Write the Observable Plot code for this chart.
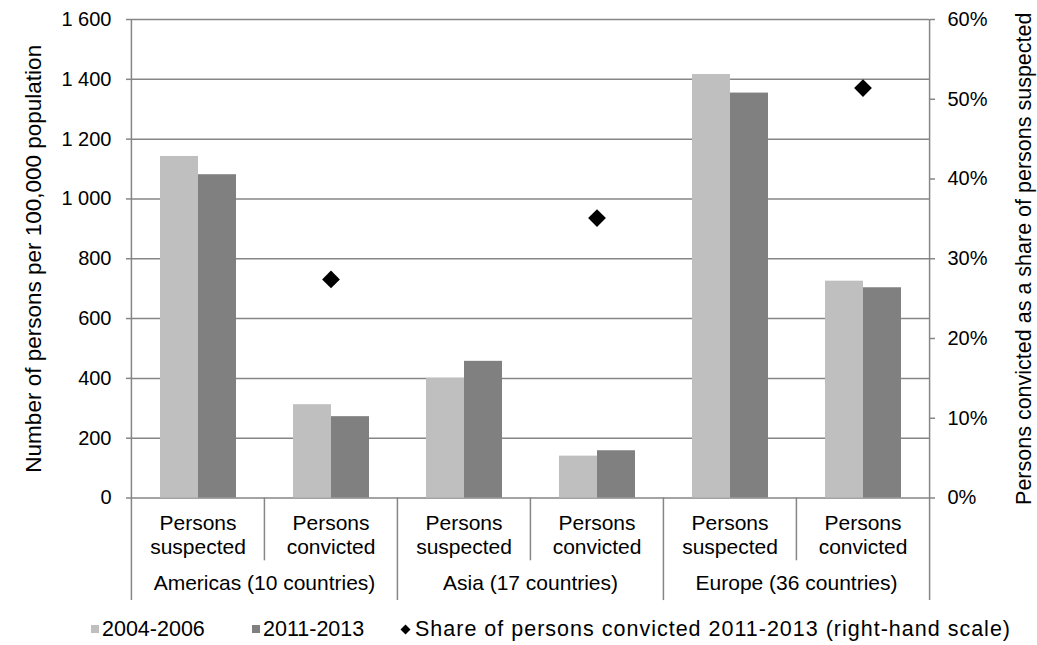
<!DOCTYPE html>
<html>
<head>
<meta charset="utf-8">
<script src="https://cdn.jsdelivr.net/npm/d3@7"></script>
<script src="https://cdn.jsdelivr.net/npm/@observablehq/plot@0.6"></script>
<style>
  body { margin: 0; background: #fff; font-family: "Liberation Sans", Arial, sans-serif; }
  #chart { position: relative; width: 1037px; height: 645px; }
  #chart svg { display: block; }
  .legend { position: absolute; top: 617px; left: 0; width: 1037px; height: 24px; font-size: 21.5px; color: #000; }
  .legend .item { position: absolute; top: 0; display: flex; align-items: center; height: 24px; white-space: nowrap; }
  .legend .sw { width: 8px; height: 8px; margin-right: 3px; }
</style>
</head>
<body>
<div id="chart"></div>
<script>
// ---- data ----
const regions = ["Americas (10 countries)", "Asia (17 countries)", "Europe (36 countries)"];
const measures = ["Persons suspected", "Persons convicted"];
const periods = ["2004-2006", "2011-2013"];
const values2004_2006 = [1142, 312, 400, 140, 1416, 725];   // per 100,000, order: region x measure
const values2011_2013 = [1081, 272, 457, 158, 1354, 703];
const shareConvicted2011_2013 = [0.274, 0.351, 0.514];       // right-hand scale
const leftTicks = [0, 200, 400, 600, 800, 1000, 1200, 1400, 1600];
const rightTicks = [0, 0.1, 0.2, 0.3, 0.4, 0.5, 0.6];
const leftTitle = "Number of persons per 100,000 population";
const rightTitle = "Persons convicted as a share of persons suspected";
const legendLabels = ["2004-2006", "2011-2013", "Share of persons convicted 2011-2013 (right-hand scale)"];

// ---- derived tables ----
const keys = [];
regions.forEach(r => measures.forEach(m => keys.push(r + "|" + m)));
const rows = [];
keys.forEach((k, i) => {
  rows.push({key: k, period: periods[0], value: values2004_2006[i]});
  rows.push({key: k, period: periods[1], value: values2011_2013[i]});
});
const yMax = 1600, shareMax = 0.6, ratio = yMax / shareMax;
const shares = regions.map((r, i) => ({key: r + "|" + measures[1], share: shareConvicted2011_2013[i]}));
const subLabels = keys.map(k => ({key: k, text: k.split("|")[1].replace(" ", "\n")}));
const regionLabels = regions.map(r => ({key: r + "|" + measures[0], text: r}));

const W = 1037, H = 605, ML = 130, MR = 108, MT = 19, MB = 107.5;
const fw = (W - ML - MR) / keys.length;
const gray = "#868686";

// separator lines (drawn with y-scale extents below zero for the category area)
const seps = keys.map((k, i) => ({key: k, top: i === 0 ? yMax : 0, bottom: (i % 2 === 0) ? -343 : -210}));
const rightEdge = [{key: keys[keys.length - 1], top: yMax, bottom: -343}];

const fmt = d => d3.format(",")(d).replace(/,/g, " ");

const plot = Plot.plot({
  width: W, height: H,
  marginLeft: ML, marginRight: MR, marginTop: MT, marginBottom: MB,
  style: {fontFamily: "'Liberation Sans', Arial, sans-serif", fontSize: "20px", color: "#000", background: "#fff", overflow: "visible"},
  fx: {domain: keys, padding: 0, axis: null, label: null},
  x: {domain: periods, paddingInner: 0, paddingOuter: 0.75, axis: null, label: null},
  y: {domain: [0, yMax], axis: null, label: null},
  color: {domain: periods, range: ["#BFBFBF", "#808080"]},
  marks: [
    Plot.gridY(leftTicks, {stroke: gray, strokeOpacity: 1, strokeWidth: 1.5}),
    Plot.barY(rows, {fx: "key", x: "period", y: "value", fill: "period"}),
    Plot.ruleX(seps, {fx: "key", x: null, y1: "top", y2: "bottom", dx: -fw / 2, stroke: gray, strokeWidth: 1.5}),
    Plot.ruleX(rightEdge, {fx: "key", x: null, y1: "top", y2: "bottom", dx: fw / 2, stroke: gray, strokeWidth: 1.5}),
    Plot.dot(shares, {fx: "key", y: d => d.share * ratio, symbol: "diamond2", r: 8, fill: "#000", stroke: "none"}),
    Plot.axisY(leftTicks, {anchor: "left", tickSize: 5, tickPadding: 15, tickFormat: fmt, stroke: gray, strokeWidth: 1.5, fontSize: 20, label: null}),
    Plot.axisY(rightTicks.map(t => t * ratio), {anchor: "right", tickSize: 5, tickPadding: 13, tickFormat: d => Math.round(d / ratio * 100) + "%", stroke: gray, strokeWidth: 1.5, fontSize: 20, label: null}),
    Plot.text(subLabels, {fx: "key", text: "text", frameAnchor: "bottom", lineAnchor: "top", dy: 16, lineHeight: 1.1, fontSize: 21, fill: "#000"}),
    Plot.text(regionLabels, {fx: "key", text: "text", frameAnchor: "bottom-right", lineAnchor: "top", dy: 77, textAnchor: "middle", fontSize: 21, fill: "#000"}),
    Plot.text([{key: keys[0], t: leftTitle}], {fx: "key", text: "t", frameAnchor: "left", textAnchor: "middle", lineAnchor: "middle", rotate: -90, dx: -98, fontSize: 22.5, fill: "#000"}),
    Plot.text([{key: keys[keys.length - 1], t: rightTitle}], {fx: "key", text: "t", frameAnchor: "right", textAnchor: "middle", lineAnchor: "middle", rotate: -90, dx: 95, fontSize: 21.5, fill: "#000"})
  ]
});
const chart = document.getElementById("chart");
chart.appendChild(plot);

// legend
const legend = document.createElement("div");
legend.className = "legend";
legend.innerHTML = `
  <div class="item" style="left:91px"><span class="sw" style="background:#BFBFBF"></span>${legendLabels[0]}</div>
  <div class="item" style="left:252px"><span class="sw" style="background:#808080"></span>${legendLabels[1]}</div>
  <div class="item" style="left:400px"><svg width="11" height="11" style="margin-right:4px"><path d="M5.5 0.5 L10.5 5.5 L5.5 10.5 L0.5 5.5 Z" fill="#000"/></svg><span style="letter-spacing:1px">${legendLabels[2]}</span></div>`;
chart.appendChild(legend);
</script>
</body>
</html>
